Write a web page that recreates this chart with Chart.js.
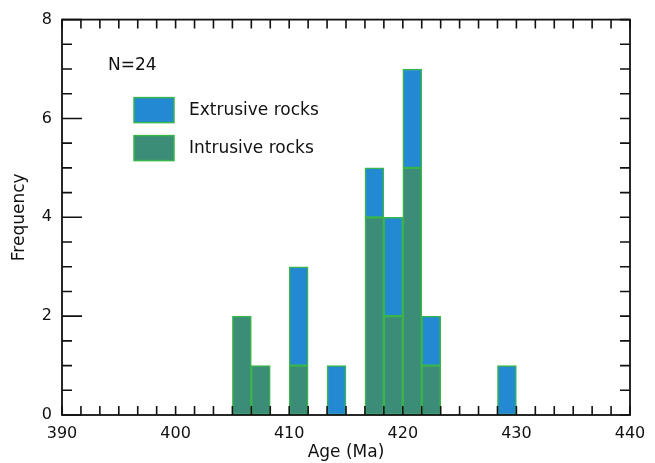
<!DOCTYPE html>
<html>
<head>
<meta charset="utf-8">
<script src="https://cdn.jsdelivr.net/npm/chart.js@4.4.1/dist/chart.umd.min.js"></script>
<style>
  html, body { margin: 0; padding: 0; background: #fff; }
  #wrap { width: 655px; height: 463px; }
</style>
</head>
<body>
<div id="wrap"><canvas id="chartAge"></canvas></div>
<script>
// histogram bins (Ma), width 5/3 Ma
const binWidth = 5 / 3;
const binStart = [405, 406.667, 410, 413.333, 416.667, 418.333, 420, 421.667, 428.333];
const intrusive = [2, 1, 1, 0, 4, 2, 5, 1, 0];
const extrusive = [0, 0, 2, 1, 1, 2, 2, 1, 1];
const xTicks = [390, 400, 410, 420, 430, 440];
const yTicks = [0, 2, 4, 6, 8];
const sampleCount = 'N=24';

const blue = '#2389d3';
const green = '#3b8d78';
const edge = '#3ab54c';
const ink = '#111';
const font = 'DejaVu Sans';

function toPoints(arr) {
    return binStart.map(function(a, i) {
        return { x: a + binWidth / 2, y: arr[i] ? arr[i] : null };
    });
}

// frame, inward ticks and the legend box
const framePlugin = {
    id: 'frame',
    afterDatasetsDraw: function(chart) {
        const ctx = chart.ctx;
        const a = chart.chartArea;
        const xs = chart.scales.x;
        const ys = chart.scales.y;
        ctx.save();
        ctx.strokeStyle = ink;
        ctx.lineWidth = 1.6;
        ctx.beginPath();
        for (let i = 0; i <= 30; i++) {
            const px = xs.getPixelForValue(390 + i * binWidth);
            ctx.moveTo(px, a.bottom); ctx.lineTo(px, a.bottom - 9);
            ctx.moveTo(px, a.top); ctx.lineTo(px, a.top + 9);
        }
        for (let v = 0; v <= 8; v += 0.5) {
            const py = ys.getPixelForValue(v);
            const len = (v % 2 === 0) ? 20 : 10;
            ctx.moveTo(a.left, py); ctx.lineTo(a.left + len, py);
            ctx.moveTo(a.right, py); ctx.lineTo(a.right - 10, py);
        }
        ctx.stroke();
        ctx.lineWidth = 1.8;
        ctx.strokeRect(a.left, a.top, a.right - a.left, a.bottom - a.top);

        // legend
        ctx.fillStyle = ink;
        ctx.font = '17px "' + font + '"';
        ctx.textBaseline = 'middle';
        ctx.fillText(sampleCount, a.left + 46, a.top + 46);
        const items = [chart.data.datasets[1], chart.data.datasets[0]];
        items.forEach(function(ds, i) {
            const y0 = a.top + 78 + i * 38;
            ctx.fillStyle = ds.backgroundColor;
            ctx.fillRect(a.left + 72, y0, 40, 25);
            ctx.strokeStyle = edge;
            ctx.lineWidth = 1.5;
            ctx.strokeRect(a.left + 72, y0, 40, 25);
            ctx.fillStyle = ink;
            ctx.fillText(ds.label, a.left + 127, y0 + 13);
        });
        ctx.restore();
    }
};

document.addEventListener('DOMContentLoaded', function() {
    const ctxAge = document.getElementById('chartAge').getContext('2d');
    new Chart(ctxAge, {
        type: 'bar',
        data: {
            datasets: [{
                label: 'Intrusive rocks',
                data: toPoints(intrusive),
                backgroundColor: green,
                borderColor: edge,
                borderWidth: 1.5,
                borderSkipped: false,
                stack: 'age'
            }, {
                label: 'Extrusive rocks',
                data: toPoints(extrusive),
                backgroundColor: blue,
                borderColor: edge,
                borderWidth: 1.5,
                borderSkipped: false,
                stack: 'age'
            }]
        },
        options: {
            responsive: true,
            maintainAspectRatio: false,
            animation: false,
            categoryPercentage: 1,
            barPercentage: 1,
            layout: { padding: { top: 19, right: 25, left: 0, bottom: 0 } },
            plugins: {
                legend: { display: false },
                tooltip: { enabled: false }
            },
            scales: {
                x: {
                    type: 'linear',
                    min: 390,
                    max: 440,
                    offset: false,
                    stacked: true,
                    grid: { display: false, drawTicks: false, offset: false },
                    border: { display: false },
                    afterBuildTicks: function(s) { s.ticks = xTicks.map(function(v) { return { value: v }; }); },
                    afterFit: function(s) { s.height = 48; },
                    ticks: {
                        padding: 9,
                        maxRotation: 0,
                        autoSkip: false,
                        color: ink,
                        font: { family: font, size: 16 }
                    },
                    title: {
                        display: true,
                        text: 'Age (Ma)',
                        color: ink,
                        padding: { top: 0, bottom: 0 },
                        font: { family: font, size: 17 }
                    }
                },
                y: {
                    min: 0,
                    max: 8,
                    stacked: true,
                    grid: { display: false, drawTicks: false },
                    border: { display: false },
                    afterBuildTicks: function(s) { s.ticks = yTicks.map(function(v) { return { value: v }; }); },
                    afterFit: function(s) { s.width = 62; },
                    ticks: {
                        padding: 10,
                        color: ink,
                        font: { family: font, size: 16 }
                    },
                    title: {
                        display: true,
                        text: 'Frequency',
                        color: ink,
                        padding: { top: 9, bottom: 0 },
                        font: { family: font, size: 17 }
                    }
                }
            }
        },
        plugins: [framePlugin]
    });
});
</script>
</body>
</html>
